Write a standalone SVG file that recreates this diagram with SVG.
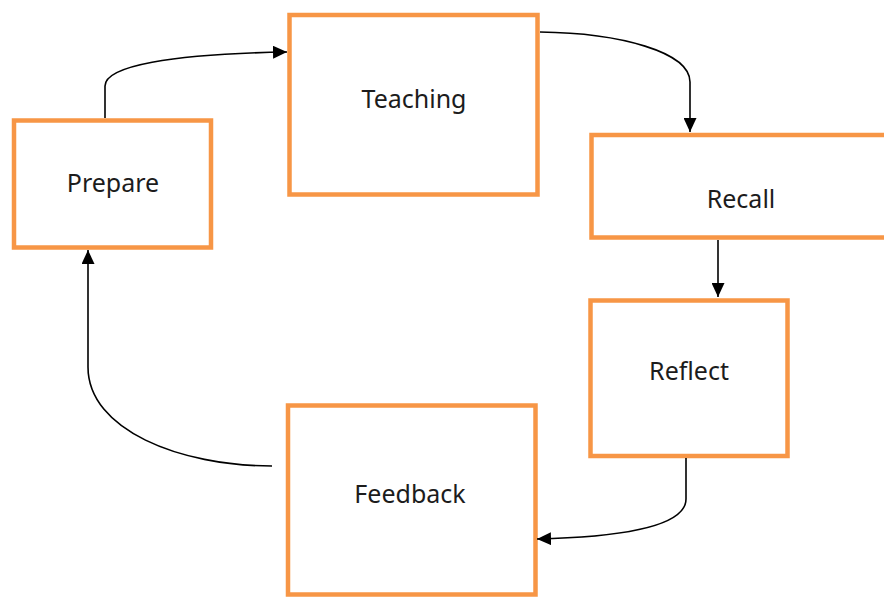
<svg xmlns="http://www.w3.org/2000/svg" width="884" height="597" viewBox="0 0 884 597">
<defs>
<style>
.box{fill:#fff;stroke:#F79646;stroke-width:4.5}
.lbl{font-family:"Noto Sans","Open Sans","Liberation Sans",sans-serif;font-size:25px;fill:#1c1c1c;text-anchor:middle}
.con{fill:none;stroke:#000;stroke-width:1.6}
</style>
<marker id="ah" viewBox="0 0 14 13" refX="14" refY="6.5" markerWidth="14" markerHeight="13" markerUnits="userSpaceOnUse" orient="auto">
<path d="M0,0 L14,6.5 L0,13 Z" fill="#000"/>
</marker>
</defs>
<rect width="884" height="597" fill="#fff"/>
<g id="prepare"><rect class="box" x="14" y="120.5" width="197" height="127"/><text class="lbl" x="113" y="192">Prepare</text></g>
<g id="teaching"><rect class="box" x="289.5" y="15" width="248" height="179.5"/><text class="lbl" x="414" y="108">Teaching</text></g>
<g id="recall"><rect class="box" x="591.5" y="135" width="300" height="102.5"/><text class="lbl" x="741" y="208">Recall</text></g>
<g id="reflect"><rect class="box" x="590.5" y="300.5" width="197" height="155.5"/><text class="lbl" x="689" y="380">Reflect</text></g>
<g id="feedback"><rect class="box" x="288" y="405.5" width="247.5" height="189"/><text class="lbl" x="410" y="503">Feedback</text></g>
<g id="connectors">
<path class="con" marker-end="url(#ah)" d="M105,118 L105,86 C105,66 170,54 287,52"/>
<path class="con" marker-end="url(#ah)" d="M540,32 C620,33 690,52 690,82 L690,132"/>
<path class="con" marker-end="url(#ah)" d="M718,240 L718,297"/>
<path class="con" marker-end="url(#ah)" d="M686,458 L686,499 C686,527 620,537 537,539"/>
<path class="con" marker-end="url(#ah)" d="M272,466 C180,466 88,430 88,367 L88,250"/>
</g>
</svg>
